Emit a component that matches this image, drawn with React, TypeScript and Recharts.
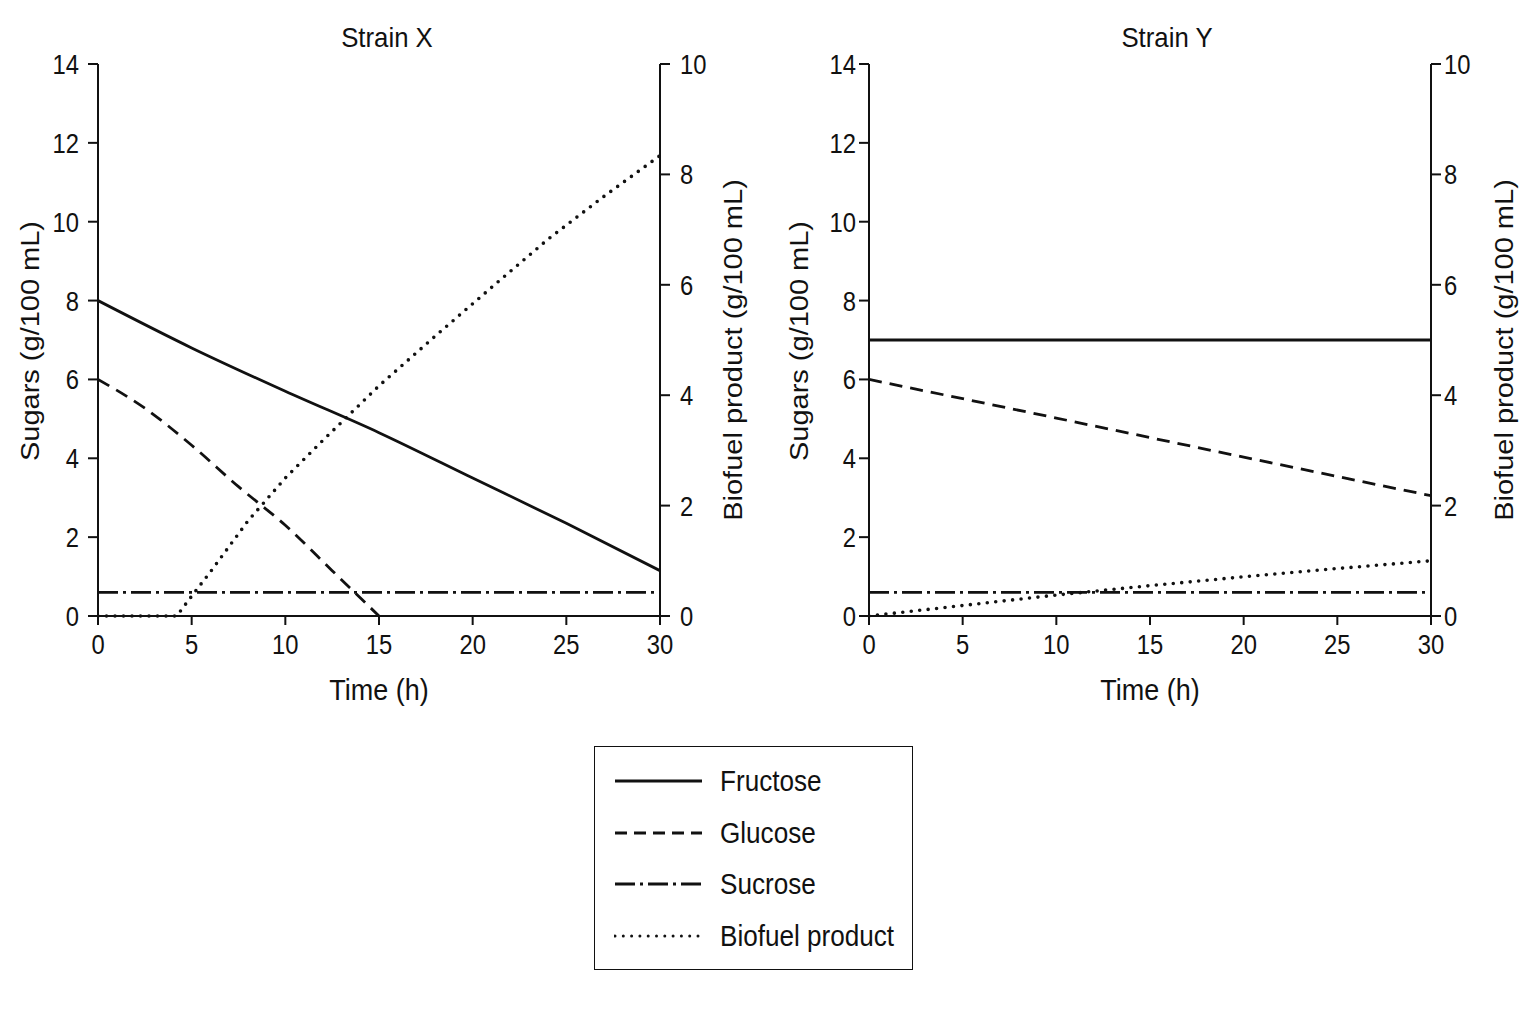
import { LineChart, Line, XAxis, YAxis } from 'recharts';

const SANS = '"Liberation Sans", Arial, Helvetica, sans-serif';
const INK = '#111';

const HOUR_TICKS = [0, 5, 10, 15, 20, 25, 30];
const SUGAR_TICKS = [0, 2, 4, 6, 8, 10, 12, 14];
const BIOFUEL_TICKS = [0, 2, 4, 6, 8, 10];

// Strain X
const X_FRUCTOSE_H = [0, 5, 10, 15, 20, 25, 30];
const X_FRUCTOSE = [8.0, 6.8, 5.7, 4.65, 3.5, 2.35, 1.15];
const X_GLUCOSE_H = [0, 2.5, 5, 7.5, 10, 12.5, 15];
const X_GLUCOSE = [6.0, 5.27, 4.33, 3.28, 2.3, 1.15, 0];
const X_SUCROSE_H = [0, 30];
const X_SUCROSE = [0.6, 0.6];
const X_BIOFUEL_H = [0, 4.2, 5, 6, 8, 10, 12, 15, 18, 21, 24, 27, 30];
const X_BIOFUEL = [0, 0, 0.36, 0.8, 1.72, 2.5, 3.18, 4.17, 5.07, 5.95, 6.82, 7.6, 8.34];

// Strain Y
const Y_FRUCTOSE_H = [0, 30];
const Y_FRUCTOSE = [7.0, 7.0];
const Y_GLUCOSE_H = [0, 10, 20, 30];
const Y_GLUCOSE = [6.0, 5.02, 4.03, 3.05];
const Y_SUCROSE_H = [0, 30];
const Y_SUCROSE = [0.6, 0.6];
const Y_BIOFUEL_H = [0, 5, 10, 15, 20, 25, 30];
const Y_BIOFUEL = [0, 0.19, 0.38, 0.55, 0.71, 0.86, 1.0];

const SERIES_NAMES = ['Fructose', 'Glucose', 'Sucrose', 'Biofuel product'];
const DASHES = [undefined, '13 8', '20 5 3 5', '0 8.5'];

const zip = (h: number[], v: number[]) => h.map((t, i) => ({ t, v: v[i] }));

// condensed tick label (the figure uses a narrow Helvetica)
function NarrowTick(props: any) {
  const { x, y, payload, textAnchor, verticalAnchor } = props;
  const dy = verticalAnchor === 'start' ? '0.71em' : '0.355em';
  return (
    <g transform={`translate(${x},${y}) scale(0.85,1)`}>
      <text x={0} y={0} dy={dy} textAnchor={textAnchor} fontSize={28} fontFamily={SANS} fill={INK}>
        {payload.value}
      </text>
    </g>
  );
}

const timeLabel = (props: any) => {
  const { x, y, width, height } = props.viewBox;
  return (
    <g transform={`translate(${x + width / 2},${y + height - 20}) scale(0.9,1)`}>
      <text x={0} y={0} textAnchor="middle" fontSize={30} fontFamily={SANS} fill={INK}>
        Time (h)
      </text>
    </g>
  );
};

const sideLabel = (text: string, side: 'left' | 'right', offset: number, shift: number) => (props: any) => {
  const { x, y, width, height } = props.viewBox;
  const cx = side === 'left' ? x + offset : x + width - offset;
  const cy = y + height / 2 + shift;
  return (
    <g transform={`translate(${cx},${cy}) rotate(-90) scale(1,0.86)`}>
      <text x={0} y={0} dy="0.355em" textAnchor="middle" fontSize={29} fontFamily={SANS} fill={INK}>
        {text}
      </text>
    </g>
  );
};

type PanelProps = {
  series: { t: number; v: number }[][];
  leftW: number;
  rightW: number;
  leftMargin: number;
  rightMargin: number;
  leftLabel: number;
  rightLabel: number;
};

function Panel({ series, leftW, rightW, leftMargin, rightMargin, leftLabel, rightLabel }: PanelProps) {
  const axisLine = { stroke: INK, strokeWidth: 2 };
  return (
    <LineChart width={768} height={720} margin={{ top: 64, right: 0, bottom: 0, left: 0 }}>
      <XAxis
        dataKey="t"
        type="number"
        domain={[0, 30]}
        ticks={HOUR_TICKS}
        allowDataOverflow
        tick={<NarrowTick />}
        tickSize={9}
        tickMargin={9}
        height={104}
        axisLine={axisLine}
        tickLine={axisLine}
        label={timeLabel}
      />
      <YAxis
        yAxisId="sugar"
        orientation="left"
        domain={[0, 14]}
        ticks={SUGAR_TICKS}
        width={leftW}
        tick={<NarrowTick />}
        tickSize={10}
        tickMargin={leftMargin}
        axisLine={axisLine}
        tickLine={axisLine}
        label={sideLabel('Sugars (g/100 mL)', 'left', leftLabel, 1)}
      />
      <YAxis
        yAxisId="bio"
        orientation="right"
        domain={[0, 10]}
        ticks={BIOFUEL_TICKS}
        width={rightW}
        tick={<NarrowTick />}
        tickSize={10}
        tickMargin={rightMargin}
        axisLine={axisLine}
        tickLine={axisLine}
        label={sideLabel('Biofuel product (g/100 mL)', 'right', rightLabel, 10)}
      />
      {series.map((d, i) => (
        <Line
          key={SERIES_NAMES[i]}
          data={d}
          dataKey="v"
          yAxisId={i === 3 ? 'bio' : 'sugar'}
          type={i === 3 ? 'linear' : 'monotone'}
          stroke={INK}
          strokeWidth={i === 3 ? 3.6 : 2.8}
          strokeDasharray={DASHES[i]}
          strokeLinecap={i === 3 ? 'round' : 'butt'}
          dot={false}
          activeDot={false}
          isAnimationActive={false}
        />
      ))}
    </LineChart>
  );
}

function Legend() {
  return (
    <div
      style={{
        position: 'absolute',
        left: 594,
        top: 746,
        width: 317,
        height: 222,
        border: `1.6px solid ${INK}`,
        background: '#fff',
      }}
    >
      {SERIES_NAMES.map((name, i) => (
        <div key={name} style={{ position: 'absolute', left: 0, top: 34 + i * 51.7 - 20, height: 40, width: 317 }}>
          <svg width={90} height={40} style={{ position: 'absolute', left: 19, top: 0 }}>
            <line
              x1={1}
              x2={88}
              y1={20}
              y2={20}
              stroke={INK}
              strokeWidth={i === 3 ? 3 : 2.8}
              strokeDasharray={i === 1 ? '12 7' : i === 3 ? '0 8.3' : DASHES[i]}
              strokeLinecap={i === 3 ? 'round' : 'butt'}
            />
          </svg>
          <div
            style={{
              position: 'absolute',
              left: 125,
              top: 0,
              lineHeight: '40px',
              fontSize: 29,
              fontFamily: SANS,
              color: INK,
              whiteSpace: 'nowrap',
              transform: 'scaleX(0.9)',
              transformOrigin: 'left center',
            }}
          >
            {name}
          </div>
        </div>
      ))}
    </div>
  );
}

const titleStyle = (center: number) => ({
  position: 'absolute' as const,
  left: center - 100,
  top: 24,
  width: 200,
  textAlign: 'center' as const,
  fontSize: 28,
  lineHeight: '28px',
  fontFamily: SANS,
  color: INK,
  transform: 'scaleX(0.92)',
  transformOrigin: 'center center',
});

export default function App() {
  const strainX = [zip(X_FRUCTOSE_H, X_FRUCTOSE), zip(X_GLUCOSE_H, X_GLUCOSE), zip(X_SUCROSE_H, X_SUCROSE), zip(X_BIOFUEL_H, X_BIOFUEL)];
  const strainY = [zip(Y_FRUCTOSE_H, Y_FRUCTOSE), zip(Y_GLUCOSE_H, Y_GLUCOSE), zip(Y_SUCROSE_H, Y_SUCROSE), zip(Y_BIOFUEL_H, Y_BIOFUEL)];
  return (
    <div style={{ position: 'absolute', left: 0, top: 0, width: 1536, height: 1024, background: '#fff' }}>
      <div style={{ position: 'absolute', left: 0, top: 0 }}>
        <Panel series={strainX} leftW={98} rightW={108} leftMargin={9} rightMargin={10} leftLabel={30} rightLabel={35} />
      </div>
      <div style={{ position: 'absolute', left: 768, top: 0 }}>
        <Panel series={strainY} leftW={101} rightW={105} leftMargin={3} rightMargin={3} leftLabel={31} rightLabel={32} />
      </div>
      <div style={titleStyle(387)}>Strain X</div>
      <div style={titleStyle(1167)}>Strain Y</div>
      <Legend />
    </div>
  );
}
